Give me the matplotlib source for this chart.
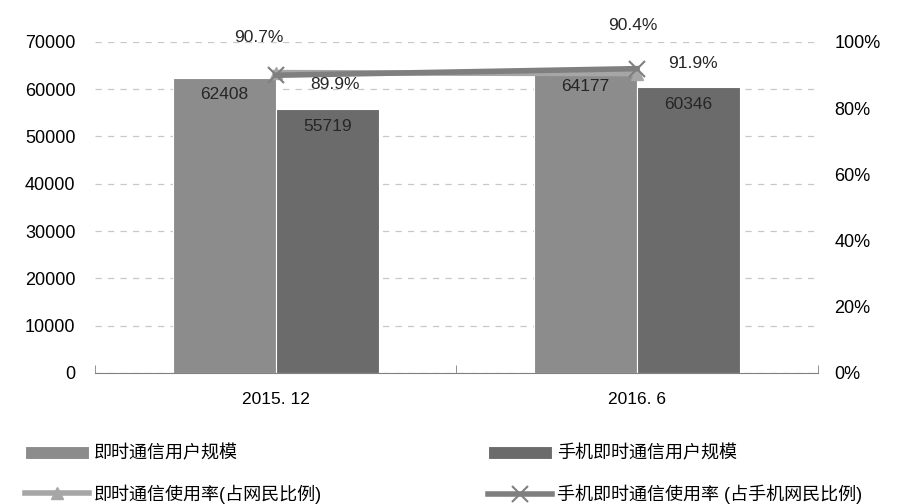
import matplotlib.pyplot as plt
import numpy as np

plt.rcParams['font.family'] = ['Liberation Sans', 'Noto Sans CJK SC', 'DejaVu Sans']

categories = ["2015. 12", "2016. 6"]
im_users = [62408, 64177]
mobile_im_users = [55719, 60346]
im_rate = [90.7, 90.4]
mobile_im_rate = [89.9, 91.9]

fig = plt.figure(figsize=(9.21, 5.04), dpi=100)
ax = fig.add_axes([0.103, 0.26, 0.785, 0.657])
ax2 = ax.twinx()

x = np.arange(len(categories))
w = 0.285
b1 = ax.bar(x - w / 2, im_users, w, color="#8c8c8c", edgecolor="white", linewidth=0.8,
            label="即时通信用户规模", zorder=2)
b2 = ax.bar(x + w / 2, mobile_im_users, w, color="#6b6b6b", edgecolor="white", linewidth=0.8,
            label="手机即时通信用户规模", zorder=2)
for bars in (b1, b2):
    for r in bars:
        ax.text(r.get_x() + r.get_width() / 2, r.get_height() - 2000, str(int(r.get_height())),
                ha="center", va="top", fontsize=12.5, color="#262626")

ax.set_xlim(-0.5, 1.5)
ax.set_ylim(0, 70000)
ax.set_yticks(range(0, 70001, 10000))
ax.yaxis.grid(True, linestyle=(0, (5, 5)), color="#c8c8c8", linewidth=0.9)
ax.set_axisbelow(True)
ax.set_xticks(x)
ax.set_xticklabels(categories, fontsize=12.5)
ax.set_xticks([-0.5, 0.5, 1.5], minor=True)
ax.tick_params(axis="x", which="major", length=0, pad=14)
ax.tick_params(axis="x", which="minor", direction="in", length=6, color="#808080")
ax.tick_params(axis="y", length=0, labelsize=13, pad=14)
for s in ("top", "left", "right"):
    ax.spines[s].set_visible(False)
ax.spines["bottom"].set_color("#808080")

l1, = ax2.plot(x, im_rate, color="#a6a6a6", linewidth=4, marker="^", markersize=9,
               label="即时通信使用率(占网民比例)", zorder=3)
l2, = ax2.plot(x, mobile_im_rate, color="#7f7f7f", linewidth=4, marker="x", markersize=12,
               markeredgewidth=1.5, label="手机即时通信使用率 (占手机网民比例)", zorder=3)
ax2.set_ylim(0, 100)
ax2.set_yticks(range(0, 101, 20))
ax2.set_yticklabels([f"{v}%" for v in range(0, 101, 20)])
ax2.tick_params(axis="y", length=0, labelsize=13, pad=12)
for s in ax2.spines.values():
    s.set_visible(False)

ax2.annotate(f"{im_rate[0]}%", (x[0], im_rate[0]), xytext=(-12, 20), textcoords="offset points",
             ha="center", va="bottom", fontsize=12.5, color="#262626")
ax2.annotate(f"{mobile_im_rate[0]}%", (x[0], mobile_im_rate[0]), xytext=(43, -7), textcoords="offset points",
             ha="center", va="center", fontsize=12.5, color="#262626")
ax2.annotate(f"{im_rate[1]}%", (x[1], im_rate[1]), xytext=(-3, 29), textcoords="offset points",
             ha="center", va="bottom", fontsize=12.5, color="#262626")
ax2.annotate(f"{mobile_im_rate[1]}%", (x[1], mobile_im_rate[1]), xytext=(40, 4), textcoords="offset points",
             ha="center", va="center", fontsize=12.5, color="#262626")

fig.legend([b1, l1, b2, l2], [b1.get_label(), l1.get_label(), b2.get_label(), l2.get_label()],
           loc="lower left", bbox_to_anchor=(0.01, -0.032), ncol=2, frameon=False,
           fontsize=13, columnspacing=9.2, handlelength=3.5, handletextpad=0.3, labelspacing=1.2)

fig.savefig("out.png", dpi=100)
